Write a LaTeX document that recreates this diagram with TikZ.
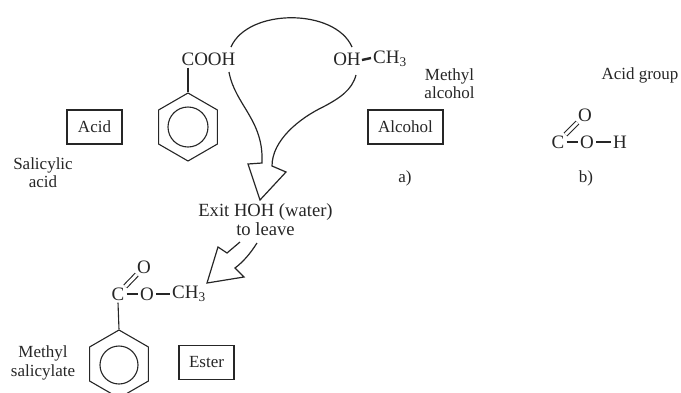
\documentclass[tikz,border=0pt]{standalone}
\usepackage{fontspec}
\setmainfont{Liberation Serif}
\usetikzlibrary{shapes.geometric}
\definecolor{ink}{gray}{0.15}
\tikzset{
  lbl/.style={inner sep=0pt,align=center,font=\fontsize{17}{18}\selectfont,text=ink},
  lblbig/.style={inner sep=0pt,align=center,font=\fontsize{18.6}{19}\selectfont,text=ink},
  atom/.style={inner sep=2pt,font=\fontsize{19}{20}\selectfont,text=ink},
  boxed/.style={draw=ink,line width=1.1pt,minimum height=34pt,inner sep=0pt,font=\fontsize{17}{19}\selectfont,text=ink},
  hex/.style={draw=ink,line width=1.1pt,regular polygon,regular polygon sides=6,regular polygon rotate=30,minimum size=68pt,inner sep=0pt},
  ringc/.style={draw=ink,line width=1.1pt,circle,minimum size=40pt,inner sep=0pt},
  bond/.style={draw=ink,line width=1.1pt},
  dbl/.style={draw=ink,line width=1.1pt,double=white,double distance=3pt,shorten <=-1.5pt,shorten >=-1.5pt},
  flow/.style={draw=ink,line width=1.2pt,line join=miter}
}
\begin{document}
\begin{tikzpicture}[x=1pt,y=-1pt]
\useasboundingbox (0,0) rectangle (681,392);
\clip (0,0) rectangle (681,392);
% top reactants
\node[atom] (cooh) at (208.5,59) {COOH};
\node[hex] (ringA) at (188,127) {};
\node[ringc] (circA) at (188,127) {};
\draw[bond] (cooh.south -| ringA.corner 1) -- (ringA.corner 1);
\node[atom] (oh) at (347,59) {OH};
\node[atom] (ch3a) at (390,59) {CH\textsubscript{3}};
\draw[draw=ink,line width=2.4pt] (oh.east) ++(-1,1) -- ([yshift=1pt]ch3a.west);
% boxes and labels
\node[boxed,minimum width=55pt] (acid) at (94.5,127) {Acid};
\node[boxed,minimum width=75pt] (alcohol) at (405.5,127) {Alcohol};
\node[boxed,minimum width=55pt] (ester) at (206.5,362.5) {Ester};
\node[lbl] (salicylic) at (43,173) {Salicylic\\acid};
\node[lbl] (methylalc) at (449.5,84) {Methyl\\alcohol};
\node[lbl] (la) at (405,178) {a)};
\node[lbl] (lb) at (586,178) {b)};
\node[lbl] (acidgroup) at (640,75) {Acid group};
\node[lblbig] (exit) at (265.5,220) {Exit HOH (water)\\to leave};
\node[lbl] (methylsal) at (43,363) {Methyl\\[1pt]salicylate};
% acid group b
\node[atom] (cb) at (558,142) {C};
\node[atom] (ob) at (587,142) {O};
\node[atom] (hb) at (620,142) {H};
\node[atom] (otopb) at (585,115) {O};
\draw[bond] (cb) -- (ob);
\draw[bond] (ob) -- (hb);
\draw[dbl] (cb) -- (otopb);
% ester
\node[atom] (ce) at (118,294) {C};
\node[atom] (oe) at (147,294) {O};
\node[atom] (ch3e) at (189,294) {CH\textsubscript{3}};
\node[atom] (otope) at (144,267) {O};
\node[hex] (ringB) at (119,364) {};
\node[ringc,minimum size=38pt] (circB) at (119,365) {};
\draw[bond] (ce) -- (oe);
\draw[bond] (oe) -- (ch3e);
\draw[dbl] (ce) -- (otope);
\draw[bond] (ce.south) -- (ringB.corner 1);
% curved arrows
\coordinate (arcL) at (231,47);
\coordinate (arcR) at (352,47);
\draw[flow] (arcL) .. controls (248,8) and (335,8) .. (arcR);
\coordinate (s1) at (229,72);
\coordinate (h1) at (262,163);
\coordinate (b1) at (248,164);
\coordinate (tip1) at (260,200);
\coordinate (b2) at (286,172);
\coordinate (h2) at (272,166);
\coordinate (s2) at (356,75);
\draw[flow] (s1) .. controls (235,105) and (264,120) .. (h1)
  -- (b1) -- (tip1) -- (b2) -- (h2)
  .. controls (272,140) and (300,118) .. (323,107)
  .. controls (340,98) and (352,90) .. (s2);
\coordinate (s3) at (240,242);
\coordinate (h3) at (227,253);
\coordinate (b3) at (218,247);
\coordinate (tip2) at (207,283);
\coordinate (b4) at (244,277);
\coordinate (h4) at (235,268);
\coordinate (s4) at (257,243);
\draw[flow] (s3) -- (h3) -- (b3) -- (tip2) -- (b4) -- (h4) .. controls (243,262) and (250,254) .. (s4);
\end{tikzpicture}
\end{document}
